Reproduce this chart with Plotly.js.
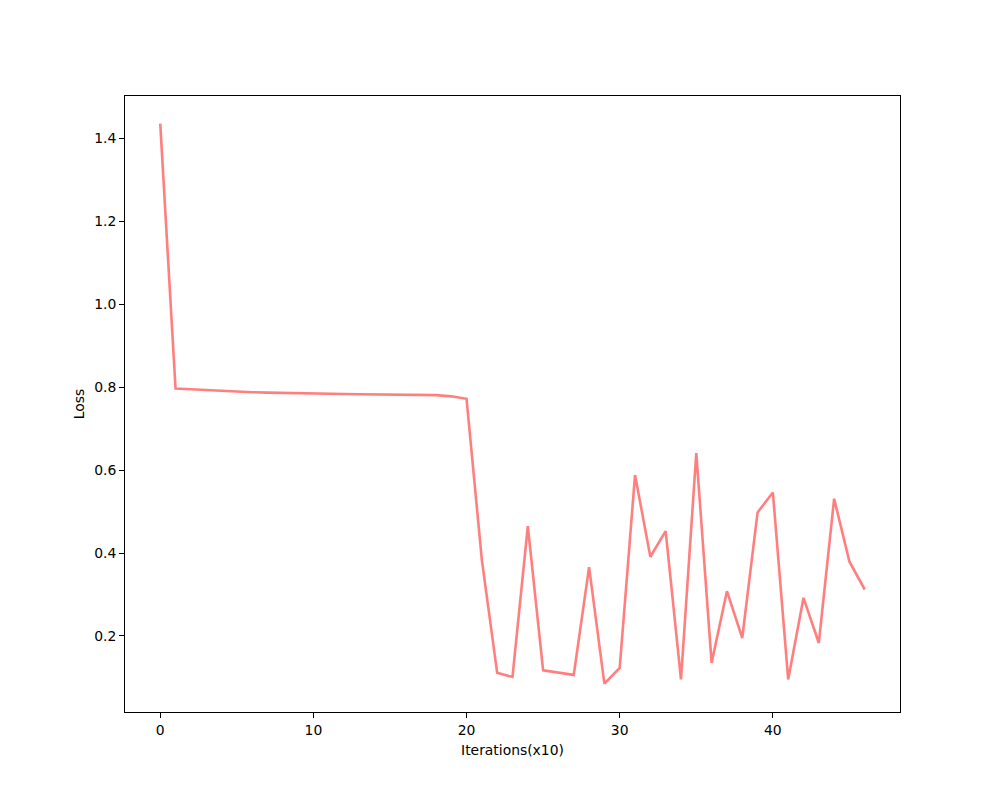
<!DOCTYPE html>
<html>
<head>
<meta charset="utf-8">
<script src="https://cdn.plot.ly/plotly-3.0.1.min.js"></script>
<style>html,body{margin:0;padding:0;background:#fff;}#chart{width:1000px;height:800px;}</style>
</head>
<body>
<div id="chart"></div>
<script>
const iterations = [0,1,2,3,4,5,6,7,8,9,10,11,12,13,14,15,16,17,18,19,20,21,22,23,24,25,26,27,28,29,30,31,32,33,34,35,36,37,38,39,40,41,42,43,44,45,46];
const loss = [1.436,0.797,0.795,0.793,0.791,0.789,0.788,0.787,0.786,0.785,0.7845,0.784,0.7835,0.783,0.7827,0.7823,0.782,0.7815,0.781,0.778,0.772,
  0.383,0.111,0.101,0.465,0.117,0.112,0.106,0.366,0.085,0.123,0.588,0.391,0.453,0.095,0.641,0.135,0.308,0.195,0.498,0.546,0.095,0.292,0.183,0.531,0.379,0.312];
const xTicks = [0,10,20,30,40];
const yTicks = [0.2,0.4,0.6,0.8,1.0,1.2,1.4];

const font = {family:'DejaVu Sans, sans-serif', size:13.9, color:'#000'};
Plotly.newPlot('chart', [{
  x: iterations, y: loss, type:'scatter', mode:'lines',
  line:{color:'rgba(255,0,0,0.5)', width:2.6}
}], {
  width:1000, height:800,
  margin:{l:125, r:100, t:96, b:88},
  paper_bgcolor:'#fff', plot_bgcolor:'#fff',
  showlegend:false,
  font: font,
  xaxis:{range:[-2.3,48.3], tickvals:xTicks, ticktext:xTicks.map(String), ticks:'outside', ticklen:5, tickwidth:1, tickcolor:'#000',
    showgrid:false, zeroline:false, showline:true, linecolor:'#000', linewidth:1, mirror:true,
    title:{text:'Iterations(x10)', font:font, standoff:8}},
  yaxis:{range:[0.0165,1.5025], tickvals:yTicks, ticktext:yTicks.map(v=>v.toFixed(1)), ticks:'outside', ticklen:5, tickwidth:1, tickcolor:'#000',
    showgrid:false, zeroline:false, showline:true, linecolor:'#000', linewidth:1, mirror:true,
    title:{text:'Loss', font:font, standoff:6}}
}, {displayModeBar:false, staticPlot:true});
</script>
</body>
</html>
